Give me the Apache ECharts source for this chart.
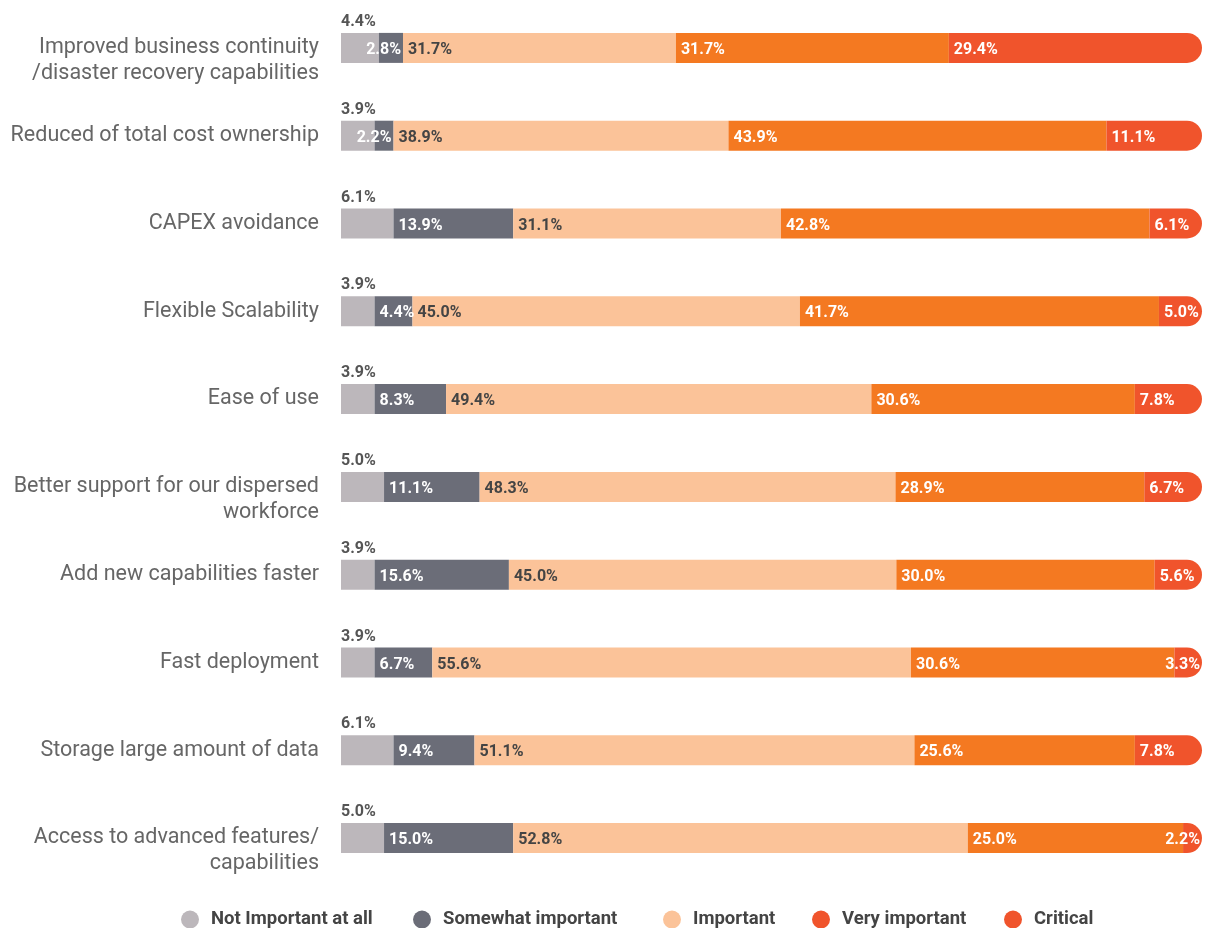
<!DOCTYPE html>
<html>
<head>
<meta charset="utf-8">
<script src="https://cdn.jsdelivr.net/npm/echarts@6/dist/echarts.min.js"></script>
<style>
html,body{margin:0;padding:0;background:#fff;}
#chart{width:1207px;height:928px;}
</style>
</head>
<body>
<div id="chart"></div>
<script>
var categories = [
  'Improved business continuity\n/disaster recovery capabilities',
  'Reduced of total cost ownership',
  'CAPEX avoidance',
  'Flexible Scalability',
  'Ease of use',
  'Better support for our dispersed\nworkforce',
  'Add new capabilities faster',
  'Fast deployment',
  'Storage large amount of data',
  'Access to advanced features/\ncapabilities'
];
var seriesNames = ['Not Important at all', 'Somewhat important', 'Important', 'Very important', 'Critical'];
var notImportant = [4.4, 3.9, 6.1, 3.9, 3.9, 5.0, 3.9, 3.9, 6.1, 5.0];
var somewhat     = [2.8, 2.2, 13.9, 4.4, 8.3, 11.1, 15.6, 6.7, 9.4, 15.0];
var important    = [31.7, 38.9, 31.1, 45.0, 49.4, 48.3, 45.0, 55.6, 51.1, 52.8];
var veryImportant= [31.7, 43.9, 42.8, 41.7, 30.6, 28.9, 30.0, 30.6, 25.6, 25.0];
var critical     = [29.4, 11.1, 6.1, 5.0, 7.8, 6.7, 5.6, 3.3, 7.8, 2.2];

var colors = ['#bcb7bb', '#6b6d78', '#fbc399', '#f47921', '#f0542c'];
var legendColors = ['#bcb7bb', '#6b6d78', '#fbc399', '#f0542c', '#f0542c'];
var legendLefts = [176, 408, 658, 807, 999];
var FONT = 'Roboto, "Noto Sans", sans-serif';

function fmt(v){ return v.toFixed(1) + '%'; }

// small segments whose label does not fit get the label right-aligned at the segment end
function withLabels(arr, smallLimit){
  return arr.map(function(v){
    if (v < smallLimit) {
      return { value: v, label: { position: 'insideRight', distance: 2 } };
    }
    return v;
  });
}

var chart = echarts.init(document.getElementById('chart'), null, {renderer:'canvas'});
var labelBase = { show: true, fontFamily: FONT, fontWeight: 'bold', fontSize: 16, offset: [0, 2],
                  formatter: function(p){ return fmt(p.value); } };

var legends = seriesNames.map(function(n, i){
  return {
    left: legendLefts[i], top: 905, icon: 'circle', itemWidth: 18, itemHeight: 18,
    textStyle: { color: '#444', fontSize: 18.5, fontWeight: 'bold', fontFamily: FONT, padding: [0,0,0,7] },
    data: [{ name: n, itemStyle: { color: legendColors[i] } }]
  };
});

chart.setOption({
  animation: false,
  backgroundColor: '#fff',
  grid: { left: 341, right: 5, top: 4, bottom: 46, containLabel: false },
  xAxis: { type: 'value', min: 0, max: 100, show: false },
  yAxis: {
    type: 'category', data: categories, inverse: true,
    axisLine: { show: false }, axisTick: { show: false }, splitLine: { show: false },
    axisLabel: { color: '#666', fontSize: 21.5, fontFamily: FONT, margin: 22, lineHeight: 26,
      formatter: function(v){ return v.indexOf('\n') >= 0 ? '\u00a0\n' + v : v; } }
  },
  legend: legends,
  series: [
    { name: seriesNames[0], type: 'bar', stack: 'all', barWidth: 30, data: notImportant,
      itemStyle: { color: colors[0] },
      label: Object.assign({}, labelBase, { offset: [0, 0], position: [0, -3], align: 'left', verticalAlign: 'bottom', color: '#555' }) },
    { name: seriesNames[1], type: 'bar', stack: 'all', barWidth: 30, data: withLabels(somewhat, 3),
      itemStyle: { color: colors[1] },
      label: Object.assign({}, labelBase, { position: 'insideLeft', color: '#fff' }) },
    { name: seriesNames[2], type: 'bar', stack: 'all', barWidth: 30, data: important,
      itemStyle: { color: colors[2] },
      label: Object.assign({}, labelBase, { position: 'insideLeft', color: '#444' }) },
    { name: seriesNames[3], type: 'bar', stack: 'all', barWidth: 30, data: veryImportant,
      itemStyle: { color: colors[3] },
      label: Object.assign({}, labelBase, { position: 'insideLeft', color: '#fff' }) },
    { name: seriesNames[4], type: 'bar', stack: 'all', barWidth: 30, data: withLabels(critical, 4),
      itemStyle: { color: colors[4], borderRadius: [0, 15, 15, 0] },
      label: Object.assign({}, labelBase, { position: 'insideLeft', color: '#fff' }) }
  ]
});
</script>
</body>
</html>
